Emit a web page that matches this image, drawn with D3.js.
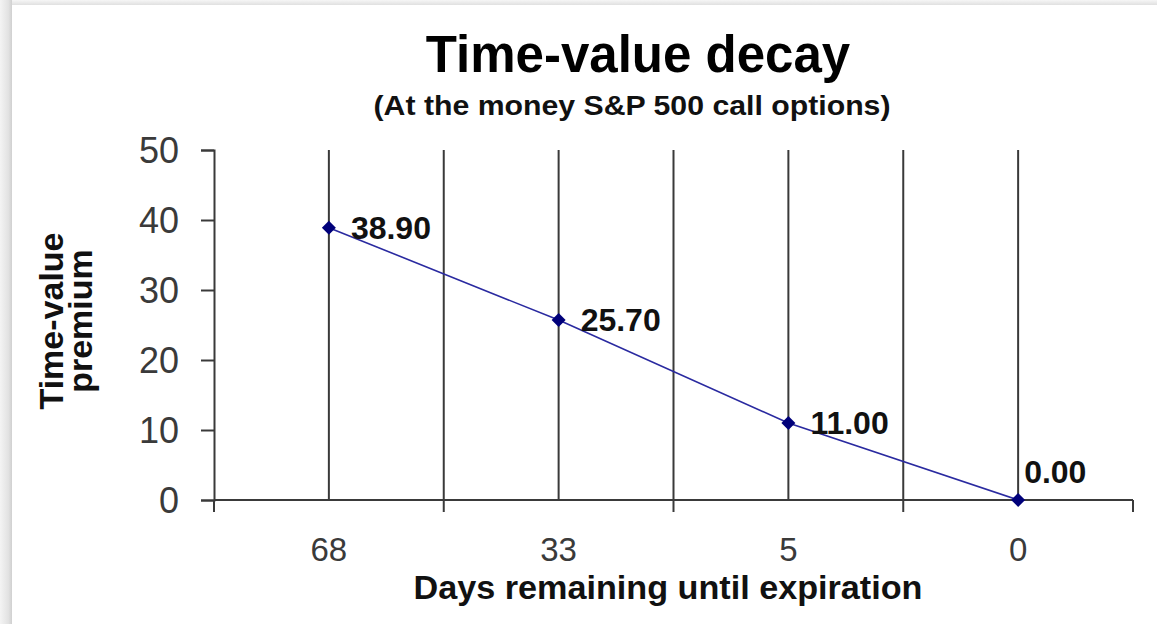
<!DOCTYPE html>
<html><head><meta charset="utf-8">
<script src="https://cdn.jsdelivr.net/npm/d3@7"></script>
<style>body{margin:0;background:#fff}svg{display:block}text{font-family:"Liberation Sans",Arial,sans-serif}</style>
</head><body>
<script>
const categories = ["68", "33", "5", "0"];
const values = [38.90, 25.70, 11.00, 0.00];
const yTicks = [0, 10, 20, 30, 40, 50];
const title = "Time-value decay";
const subtitle = "(At the money S&P 500 call options)";
const xTitle = "Days remaining until expiration";
const yTitle = ["Time-value", "premium"];

(function () {
const W = 1157, H = 624;
const svg = d3.select("body").append("svg").attr("width", W).attr("height", H);
const defs = svg.append("defs");
const gl = defs.append("linearGradient").attr("id","gl").attr("x1","0").attr("x2","1").attr("y1","0").attr("y2","0");
gl.append("stop").attr("offset","0").attr("stop-color","#f4f4f4");
gl.append("stop").attr("offset","0.7").attr("stop-color","#e2e2e2");
gl.append("stop").attr("offset","1").attr("stop-color","#d0d0d0");
const gt = defs.append("linearGradient").attr("id","gt").attr("x1","0").attr("x2","0").attr("y1","0").attr("y2","1");
gt.append("stop").attr("offset","0").attr("stop-color","#f6f6f6");
gt.append("stop").attr("offset","1").attr("stop-color","#e0e0e0");
svg.append("rect").attr("x",0).attr("y",0).attr("width",W).attr("height",5).attr("fill","url(#gt)");
svg.append("rect").attr("x",0).attr("y",0).attr("width",12).attr("height",H).attr("fill","url(#gl)");

const pLeft = 214, pRight = 1133, pTop = 150, pBottom = 500;
const x = d3.scaleBand().domain(categories).range([pLeft, pRight]).padding(0);
const y = d3.scaleLinear().domain([0, 50]).range([pBottom, pTop]);
const gridCol = "#3a3a3a";

// vertical grid lines at category centres and band boundaries
const gridXs = [];
categories.forEach((c, i) => {
  if (i > 0) gridXs.push(x(c));
  gridXs.push(x(c) + x.bandwidth() / 2);
});
svg.append("g").selectAll("line").data(gridXs).join("line")
  .attr("x1", d => d).attr("x2", d => d).attr("y1", y(50)).attr("y2", y(0))
  .attr("stroke", gridCol).attr("stroke-width", 2);

// y axis
const yAxis = svg.append("g").attr("transform", `translate(${pLeft},0)`)
  .call(d3.axisLeft(y).tickValues(yTicks).tickSize(13).tickPadding(22));
yAxis.select(".domain").attr("stroke", gridCol).attr("stroke-width", 2);
yAxis.selectAll(".tick line").attr("stroke", gridCol).attr("stroke-width", 2);
yAxis.selectAll(".tick text").attr("font-size", 36).attr("fill", "#3a3a3a")
  .attr("font-family", '"Liberation Sans",Arial,sans-serif').attr("dy", "0.36em");

// x axis
const xAxis = svg.append("g").attr("transform", `translate(0,${pBottom})`)
  .call(d3.axisBottom(x).tickSize(0).tickPadding(38));
xAxis.select(".domain").remove();
xAxis.selectAll(".tick text").attr("font-size", 33).attr("fill", "#3a3a3a")
  .attr("font-family", '"Liberation Sans",Arial,sans-serif');
svg.append("line").attr("x1", pLeft).attr("x2", pRight).attr("y1", pBottom).attr("y2", pBottom)
  .attr("stroke", gridCol).attr("stroke-width", 2);
const bounds = categories.map(c => x(c)).concat([pRight]);
svg.append("g").selectAll("line").data(bounds).join("line")
  .attr("x1", d => d).attr("x2", d => d).attr("y1", pBottom).attr("y2", pBottom + 12)
  .attr("stroke", gridCol).attr("stroke-width", 2);

// line series
const pts = categories.map((c, i) => ({c, v: values[i]}));
const cx = d => x(d.c) + x.bandwidth() / 2;
svg.append("path").datum(pts)
  .attr("d", d3.line().x(cx).y(d => y(d.v)))
  .attr("fill", "none").attr("stroke", "#2a2aa0").attr("stroke-width", 1.6);
svg.append("g").selectAll("path").data(pts).join("path")
  .attr("d", d3.symbol().type(d3.symbolSquare).size(98))
  .attr("transform", d => `translate(${cx(d)},${y(d.v)}) rotate(45)`)
  .attr("fill", "#00007a");

// data labels
svg.append("g").selectAll("text").data(pts).join("text")
  .attr("x", d => cx(d) + (d.v === 0 ? 6 : 22))
  .attr("y", d => y(d.v) + (d.v === 0 ? -17 : 11))
  .attr("font-size", 32).attr("font-weight", "bold").attr("fill", "#111")
  .text(d => d.v.toFixed(2));

// titles
svg.append("text").attr("x", 638).attr("y", 72).attr("text-anchor", "middle")
  .attr("font-size", 51).attr("font-weight", "bold").attr("fill", "#000").text(title);
svg.append("text").attr("x", 632).attr("y", 115).attr("text-anchor", "middle")
  .attr("font-size", 27).attr("font-weight", "bold").attr("fill", "#111")
  .attr("textLength", 517).attr("lengthAdjust", "spacingAndGlyphs").text(subtitle);
svg.append("text").attr("x", 668).attr("y", 599).attr("text-anchor", "middle")
  .attr("font-size", 33).attr("font-weight", "bold").attr("fill", "#111")
  .attr("textLength", 509).attr("lengthAdjust", "spacingAndGlyphs").text(xTitle);
const yt = svg.append("text").attr("transform", "translate(0,321) rotate(-90)")
  .attr("text-anchor", "middle").attr("font-size", 34).attr("font-weight", "bold").attr("fill", "#111");
yt.append("tspan").attr("x", 0).attr("y", 63).text(yTitle[0]);
yt.append("tspan").attr("x", 0).attr("y", 92).text(yTitle[1]);
})();
</script>
</body></html>
